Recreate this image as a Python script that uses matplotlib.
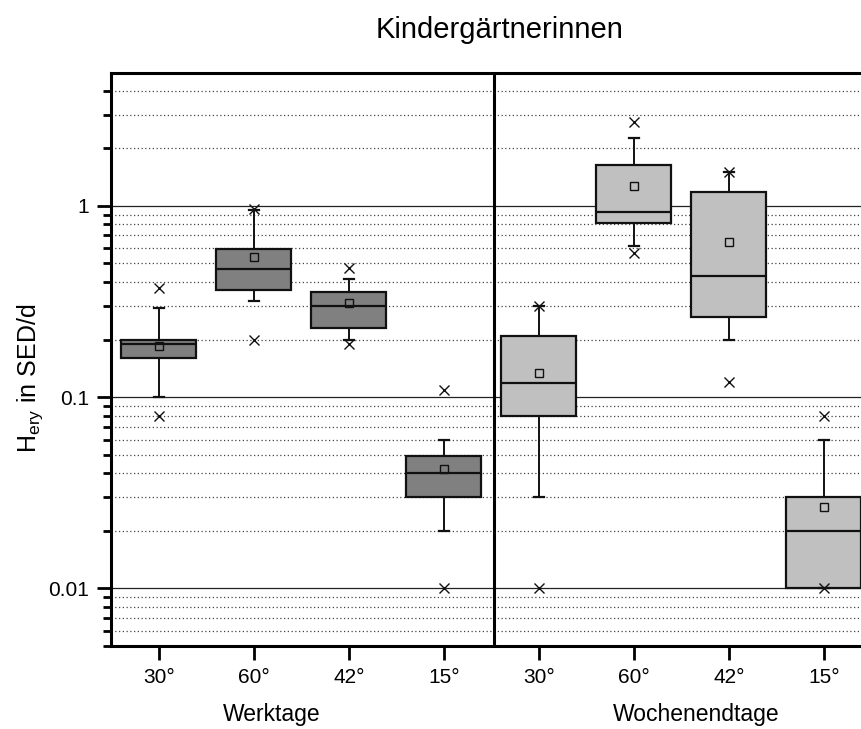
import matplotlib
matplotlib.use("Agg")
import matplotlib.pyplot as plt
import numpy as np
from matplotlib.ticker import LogLocator, FixedLocator, NullFormatter

plt.rcParams['font.family'] = ['Liberation Sans', 'DejaVu Sans']
plt.rcParams['mathtext.fontset'] = 'custom'
plt.rcParams['mathtext.rm'] = 'Liberation Sans'

# angle groups, workdays then weekend days
angles = ['30°', '60°', '42°', '15°']
groups = ['Werktage', 'Wochenendtage']

# box statistics per group (H_ery in SED/d)
werk_q1 = [0.161, 0.363, 0.231, 0.030]
werk_med = [0.190, 0.467, 0.299, 0.040]
werk_q3 = [0.198, 0.598, 0.356, 0.049]
werk_lo = [0.100, 0.320, 0.200, 0.020]
werk_hi = [0.291, 0.957, 0.416, 0.060]
werk_mean = [0.186, 0.542, 0.310, 0.042]
werk_min = [0.080, 0.200, 0.190, 0.010]
werk_max = [0.370, 0.960, 0.476, 0.109]

woch_q1 = [0.080, 0.810, 0.261, 0.010]
woch_med = [0.119, 0.927, 0.428, 0.020]
woch_q3 = [0.208, 1.640, 1.180, 0.030]
woch_lo = [0.030, 0.616, 0.200, 0.010]
woch_hi = [0.298, 2.260, 1.500, 0.060]
woch_mean = [0.133, 1.270, 0.644, 0.0266]
woch_min = [0.010, 0.570, 0.120, 0.010]
woch_max = [0.300, 2.760, 1.500, 0.080]


def make_stats(q1, med, q3, lo, hi, mean, mn, mx):
    out = []
    for i in range(len(q1)):
        out.append({'q1': q1[i], 'med': med[i], 'q3': q3[i],
                    'whislo': lo[i], 'whishi': hi[i], 'mean': mean[i],
                    'fliers': [mn[i], mx[i]]})
    return out


stats = make_stats(werk_q1, werk_med, werk_q3, werk_lo, werk_hi, werk_mean, werk_min, werk_max) \
    + make_stats(woch_q1, woch_med, woch_q3, woch_lo, woch_hi, woch_mean, woch_min, woch_max)
colors = ['#808080'] * 4 + ['#c0c0c0'] * 4
pos = np.arange(1, 9)

fig = plt.figure(figsize=(8.61, 7.29), dpi=100)
ax = fig.add_axes([111 / 861, 1 - 646 / 729, (861 - 111) / 861, (646 - 73) / 729])

ax.set_yscale('log')
ax.set_ylim(0.005, 4.95)
ax.set_xlim(0.495, 8.39)

# grid under the boxes
ax.yaxis.set_major_locator(FixedLocator([0.01, 0.1, 1]))
ax.yaxis.set_minor_locator(LogLocator(base=10, subs=np.arange(2, 10)))
ax.yaxis.set_minor_formatter(NullFormatter())
ax.set_yticklabels(['0.01', '0.1', '1'])
ax.grid(True, axis='y', which='major', color='#222222', lw=0.9, ls='-', zorder=0)
ax.grid(True, axis='y', which='minor', color='#444444', lw=0.9, ls=(0, (1, 2)), zorder=0)
ax.set_axisbelow(True)

bp = ax.bxp(stats, positions=pos, widths=0.79, capwidths=0.11,
            patch_artist=True, showmeans=True, showfliers=True,
            boxprops=dict(edgecolor='#111111', linewidth=1.6, zorder=2),
            medianprops=dict(color='#111111', linewidth=1.6, zorder=3),
            whiskerprops=dict(color='#111111', linewidth=1.4, zorder=2),
            capprops=dict(color='#111111', linewidth=1.6, zorder=2),
            meanprops=dict(marker='s', markersize=6, markerfacecolor='none',
                           markeredgecolor='#111111', markeredgewidth=1.0, zorder=4),
            flierprops=dict(marker='x', markersize=7, markeredgecolor='#111111',
                            markeredgewidth=1.0, zorder=4))
for box, c in zip(bp['boxes'], colors):
    box.set_facecolor(c)

# divider between the two groups
ax.axvline(4.53, color='black', lw=2.2, zorder=5)

ax.set_xticks(pos)
ax.set_xticklabels(angles * 2)

for side in ['left', 'top', 'bottom']:
    ax.spines[side].set_linewidth(2.2)
ax.spines['right'].set_visible(False)

ax.tick_params(axis='both', which='major', direction='out', length=10, width=2,
               labelsize=15, pad=6)
ax.tick_params(axis='y', which='minor', direction='out', length=6, width=2)
ax.tick_params(axis='x', which='minor', bottom=False)

fig.text(500 / 861, 1 - 30 / 729, 'Kindergärtnerinnen', ha='center', va='center', fontsize=21)
fig.text(272 / 861, 1 - 714 / 729, groups[0], ha='center', va='center', fontsize=16.5)
fig.text(696 / 861, 1 - 714 / 729, groups[1], ha='center', va='center', fontsize=16.5)
fig.text(30 / 861, 1 - 378 / 729, r'H$_{\mathregular{ery}}$ in SED/d', ha='center', va='center',
         rotation=90, fontsize=18)

fig.savefig('out.png', dpi=100)
